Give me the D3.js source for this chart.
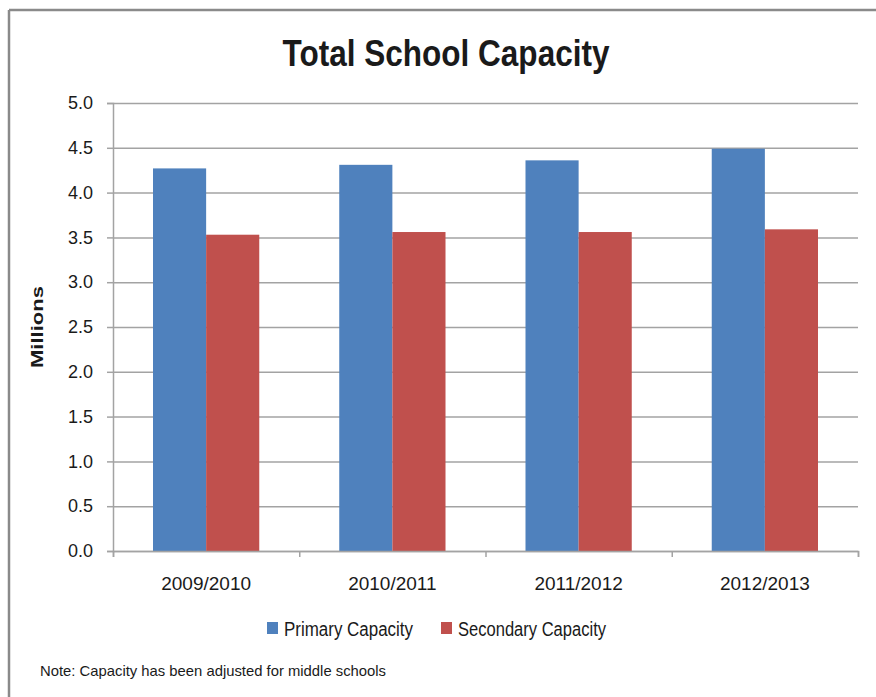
<!DOCTYPE html>
<html>
<head>
<meta charset="utf-8">
<script src="https://cdn.jsdelivr.net/npm/d3@7"></script>
<style>
  body { margin: 0; background: #fff; }
  text { font-family: "Liberation Sans Narrow", "Liberation Sans", sans-serif; fill: #1a1a1a; }
</style>
</head>
<body>
<div id="chart"></div>
<script>
var width = 876
var height = 697

// data (millions)
var categories = ['2009/2010', '2010/2011', '2011/2012', '2012/2013'];
var primaryCapacity = [4.27, 4.31, 4.36, 4.49];
var secondaryCapacity = [3.53, 3.56, 3.56, 3.59];
var seriesNames = ['Primary Capacity', 'Secondary Capacity'];
var seriesColors = ['#4F81BD', '#C0504D'];
var yTicks = [0, 0.5, 1.0, 1.5, 2.0, 2.5, 3.0, 3.5, 4.0, 4.5, 5.0];

var plot = { left: 113, right: 858, top: 103, bottom: 551 };

var svg = d3.select('#chart')
            .append('svg')
            .attr('width', width)
            .attr('height', height);

// frame (only top and left edges show in the picture)
svg.append('line').attr('x1', 9).attr('x2', width).attr('y1', 10).attr('y2', 10)
   .attr('stroke', '#8a8a8a').attr('stroke-width', 2.5);
svg.append('line').attr('x1', 9).attr('x2', 9).attr('y1', 10).attr('y2', height)
   .attr('stroke', '#8a8a8a').attr('stroke-width', 2.5);

var x = d3.scaleBand()
          .domain(categories)
          .range([plot.left, plot.right])
          .paddingInner(0.4295)
          .paddingOuter(0.2148);

var xs = d3.scaleBand()
           .domain(seriesNames)
           .range([0, x.bandwidth()]);

var xEdge = d3.scaleLinear().domain([0, categories.length]).range([plot.left, plot.right]);

var y = d3.scaleLinear().domain([0, 5]).range([plot.bottom, plot.top]);

////////////// gridlines //////////////
svg.append('g')
   .attr('transform', 'translate(' + plot.left + ',0)')
   .call(d3.axisLeft(y).tickValues(yTicks).tickSize(-(plot.right - plot.left)).tickFormat(''))
   .call(function (g) {
       g.select('.domain').remove();
       g.selectAll('line').attr('stroke', '#a3a3a3').attr('stroke-width', 1.5);
   });

////////////// bars //////////////
var rows = categories.map(function (c, i) {
    return { cat: c, values: [primaryCapacity[i], secondaryCapacity[i]] };
});

var groups = svg.selectAll('g.cat')
                .data(rows)
                .enter()
                .append('g')
                .attr('class', 'cat')
                .attr('transform', function (d) { return 'translate(' + x(d.cat) + ',0)'; });

groups.selectAll('rect')
      .data(function (d) { return d.values.map(function (v, j) { return { name: seriesNames[j], value: v, color: seriesColors[j] }; }); })
      .enter()
      .append('rect')
      .attr('x', function (d) { return xs(d.name); })
      .attr('width', xs.bandwidth())
      .attr('y', function (d) { return y(d.value); })
      .attr('height', function (d) { return y(0) - y(d.value); })
      .attr('fill', function (d) { return d.color; });

////////////// y axis //////////////
svg.append('g')
   .attr('transform', 'translate(' + plot.left + ',0)')
   .call(d3.axisLeft(y).tickValues(yTicks).tickSize(6).tickPadding(14).tickFormat(d3.format('.1f')))
   .call(function (g) {
       g.select('.domain').attr('stroke', '#a3a3a3').attr('stroke-width', 1.5);
       g.selectAll('line').attr('stroke', '#a3a3a3').attr('stroke-width', 1.5);
       g.selectAll('text').attr('font-size', 18).attr('fill', '#1a1a1a')
        .style('font-family', '"Liberation Sans Narrow", "Liberation Sans", sans-serif');
   });

////////////// x axis //////////////
svg.append('g')
   .attr('transform', 'translate(0,' + plot.bottom + ')')
   .call(d3.axisBottom(xEdge).tickValues(d3.range(categories.length + 1)).tickSize(6).tickFormat(''))
   .call(function (g) {
       g.select('.domain').attr('stroke', '#a3a3a3').attr('stroke-width', 1.5);
       g.selectAll('line').attr('stroke', '#a3a3a3').attr('stroke-width', 1.5);
   });

svg.append('g')
   .attr('transform', 'translate(0,' + plot.bottom + ')')
   .call(d3.axisBottom(x).tickSize(0).tickPadding(26))
   .call(function (g) {
       g.select('.domain').remove();
       g.selectAll('text').attr('font-size', 19).attr('fill', '#1a1a1a')
        .style('font-family', '"Liberation Sans Narrow", "Liberation Sans", sans-serif');
   });

////////////// titles //////////////
svg.append('text')
   .attr('x', 446)
   .attr('y', 66)
   .attr('text-anchor', 'middle')
   .attr('font-size', 37)
   .attr('font-weight', 'bold')
   .attr('fill', '#000')
   .attr('textLength', 327)
   .attr('lengthAdjust', 'spacingAndGlyphs')
   .text('Total School Capacity');

svg.append('text')
   .attr('transform', 'translate(43,327) rotate(-90)')
   .attr('text-anchor', 'middle')
   .attr('font-size', 17)
   .attr('font-weight', 'bold')
   .attr('fill', '#000')
   .attr('textLength', 82)
   .attr('lengthAdjust', 'spacingAndGlyphs')
   .text('Millions');

////////////// legend //////////////
var legendPos = [267, 441];
var legendTextW = [129, 148];
var legend = svg.selectAll('g.legend')
                .data(seriesNames)
                .enter()
                .append('g')
                .attr('class', 'legend')
                .attr('transform', function (d, i) { return 'translate(' + legendPos[i] + ',622)'; });

legend.append('rect')
      .attr('width', 11)
      .attr('height', 12)
      .attr('fill', function (d, i) { return seriesColors[i]; });

legend.append('text')
      .attr('x', 17)
      .attr('y', 14)
      .attr('font-size', 20)
      .attr('textLength', function (d, i) { return legendTextW[i]; })
      .attr('lengthAdjust', 'spacingAndGlyphs')
      .text(function (d) { return d; });

////////////// note //////////////
svg.append('text')
   .attr('x', 40)
   .attr('y', 676)
   .attr('font-size', 15)
   .attr('textLength', 346)
   .attr('lengthAdjust', 'spacingAndGlyphs')
   .text('Note: Capacity has been adjusted for middle schools');
</script>
</body>
</html>
